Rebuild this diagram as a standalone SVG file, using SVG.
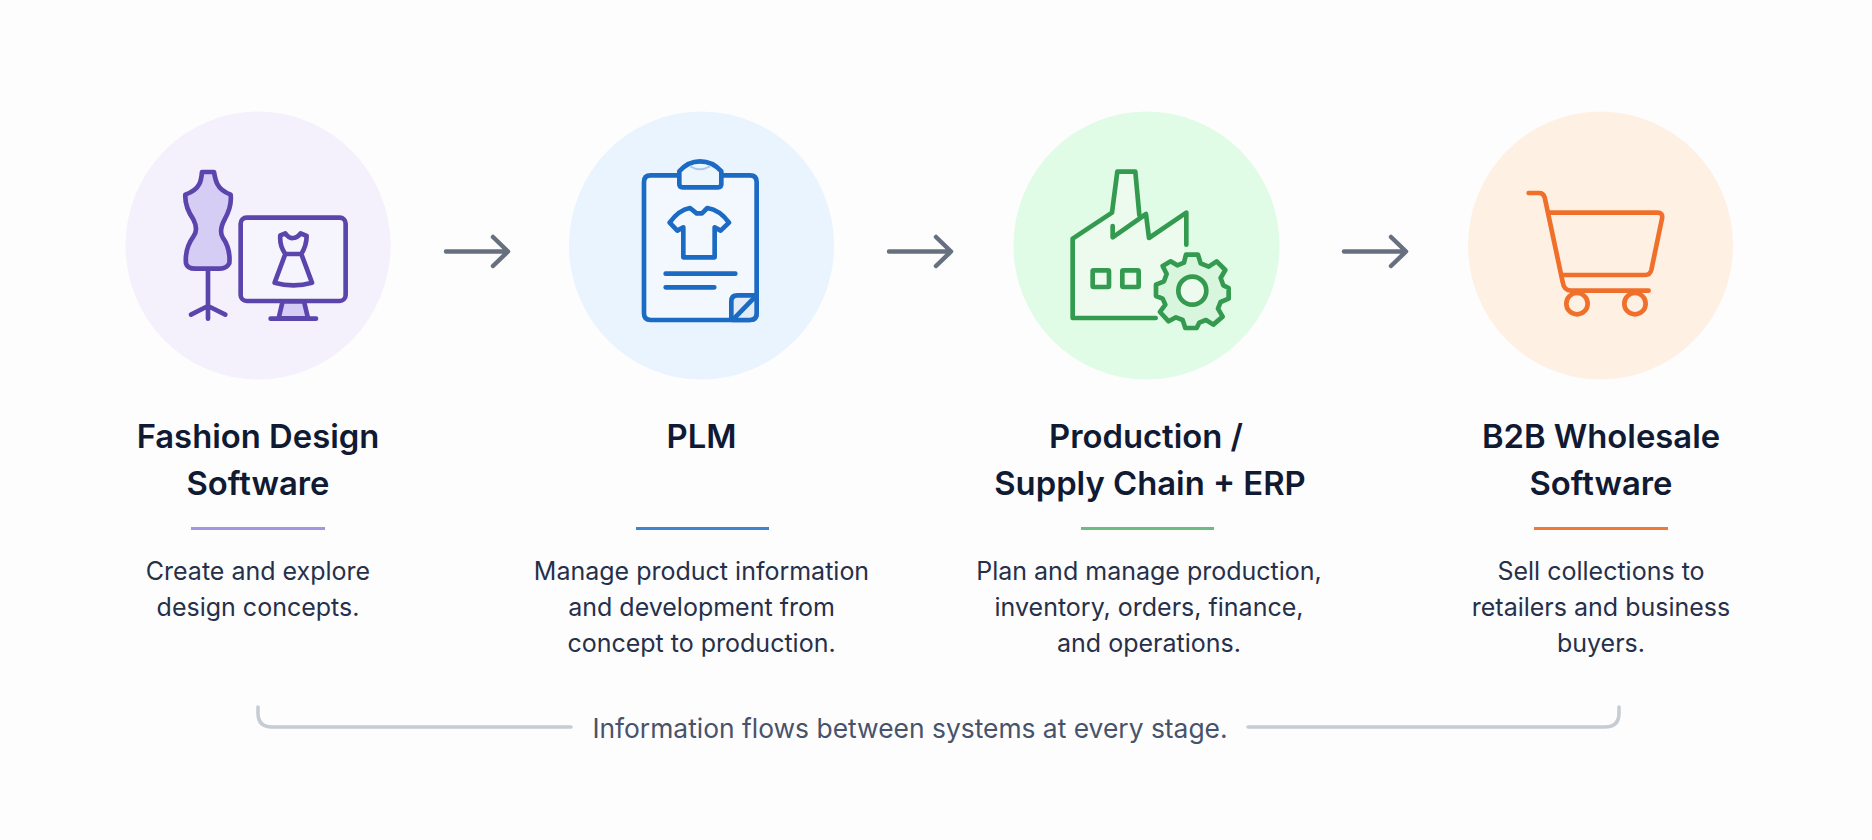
<svg xmlns="http://www.w3.org/2000/svg" width="1872" height="840" viewBox="0 0 1872 840">
<style>
.t{font-family:"Inter","Liberation Sans",sans-serif;font-weight:600;font-size:32.8px;fill:#111a33;text-anchor:middle}
.d{font-family:"Inter","Liberation Sans",sans-serif;font-weight:400;font-size:25px;fill:#26304a;text-anchor:middle}
.i{fill:none;stroke-width:14;stroke-linecap:round;stroke-linejoin:round}
.r{stroke-width:3;fill:none}
.a{fill:none;stroke:#66707f;stroke-width:4.500;stroke-linecap:round;stroke-linejoin:round}
.b{fill:none;stroke:#c6ccd4;stroke-width:3.500;stroke-linecap:round}
</style>
<rect width="1872" height="840" fill="#fdfdfe"/>
<g id="connectors">
<path class="a" d="M446 251.500H507M493 237L508 251.500L493 266"/>
<path class="a" d="M889 251.500H950M936 237L951 251.500L936 266"/>
<path class="a" d="M1344 251.500H1405M1391 237L1406 251.500L1391 266"/>
<path class="b" d="M258 707V713Q258 727 272 727H571"/>
<path class="b" d="M1619 707V713Q1619 727 1605 727H1248"/>
</g>
<g id="node-design">
<ellipse cx="258" cy="245.500" rx="132.500" ry="134" fill="#f4f1fd"/>
<g transform="translate(110 100) scale(.3333)" class="i" stroke="#5b45ac">
<path fill="#d6cdf5" d="M276 216H312Q316 240 322 252Q332 272 362 284Q366 320 344 358Q326 392 338 412Q362 446 358 490Q350 506 330 506H256Q232 506 228 490Q224 446 250 410Q266 390 250 358Q224 320 226 284Q258 272 268 252Q274 240 276 216Z"/>
<path d="M294 508V656M243 644L294 618L346 644"/>
<rect x="392" y="353" width="315" height="250" rx="18" fill="#f6f4fd"/>
<path fill="#d6cdf5" d="M518 604H582L594 655H506Z"/>
<path d="M482 656H618"/>
<path fill="#f6f4fd" d="M511 406L526 400Q538 416 548 414Q562 414 572 400L590 408Q590 436 574 462L606 548Q550 564 494 548L526 462Q508 436 511 406ZM526 462H574"/>
</g>
</g>
<g id="node-plm">
<ellipse cx="701.500" cy="245.500" rx="132.500" ry="134" fill="#e9f4fe"/>
<g transform="translate(560 100) scale(.3333)" class="i" stroke="#1b6ac4">
<path d="M356 226H272Q252 226 252 246V640Q252 660 272 660H570Q590 660 590 640V246Q590 226 570 226H488" fill="#f3f8fe"/>
<path d="M358 214Q384 184 420 184Q458 184 484 214V252Q484 262 474 262H368Q358 262 358 252Z" fill="#edf5fd"/>
<path d="M392 200Q420 216 448 200" stroke="#a9c9ec" stroke-width="6"/>
<path d="M390 324L410 340H426L442 324Q480 330 507 368L482 392L464 382V472H370V382L352 392L329 368Q356 330 390 324Z"/>
<path d="M317 521H526M317 562H463"/>
<path d="M514 656V604Q514 586 532 586H590V640Q590 660 570 660H518Z" fill="#e3ebf5"/>
<path d="M524 654L586 590"/>
</g>
</g>
<g id="node-production">
<ellipse cx="1146.500" cy="245.500" rx="133" ry="134" fill="#e0fbe6"/>
<g transform="translate(1000 100) scale(.3333)" class="i" stroke="#339a4f">
<path fill="#edfbef" stroke="none" d="M224 420L336 345L352 215H406L418 345L438 342L447 414L552 345V560L470 648H224Z"/>
<path d="M467 654H218V416L336 338L352 215H406L418 345"/>
<path d="M338 378V412L438 342L447 414L559 338V434"/>
<rect x="278" y="511" width="49" height="50" rx="3"/>
<rect x="367" y="511" width="49" height="50" rx="3"/>
<path fill="#d8f5de" d="M558 464H594L602 490L626 500L650 484L676 510L662 534L670 556L686 564V596L662 606L654 626L668 650L640 674L618 660L598 668L590 684H556L548 660L528 652L506 664L480 636L496 614L488 596L468 588V554L492 544L500 522L488 498L512 484L532 496L552 488Z"/>
<circle cx="577" cy="572" r="42" fill="#edfbef"/>
</g>
</g>
<g id="node-wholesale">
<ellipse cx="1600.500" cy="245.500" rx="132.500" ry="134" fill="#fef1e4"/>
<g transform="translate(1450 100) scale(.3333)" class="i" stroke="#f06f2a">
<path d="M236 279H268Q280 279 284 292L338 546Q342 572 364 572H596"/>
<path d="M298 338H622Q640 338 636 356L604 510Q600 525 586 525H338"/>
<circle cx="381" cy="611" r="32"/>
<circle cx="555" cy="611" r="32"/>
</g>
</g>
<g id="labels">
<text class="t" x="258" y="448">Fashion Design</text><text class="t" x="258" y="495">Software</text>
<path d="M191 528.500H325" class="r" stroke="#a594e0"/>
<text class="d" x="258" y="580">Create and explore</text><text class="d" x="258" y="616">design concepts.</text>
<text class="t" x="701.500" y="448">PLM</text>
<path d="M636 528.500H769" class="r" stroke="#3d85d0"/>
<text class="d" x="701.500" y="580">Manage product information</text><text class="d" x="701.500" y="616">and development from</text><text class="d" x="701.500" y="652">concept to production.</text>
<text class="t" x="1146" y="448">Production /</text><text class="t" x="1150" y="495">Supply Chain + ERP</text>
<path d="M1081 528.500H1214" class="r" stroke="#6dbd82"/>
<text class="d" x="1149" y="580">Plan and manage production,</text><text class="d" x="1149" y="616">inventory, orders, finance,</text><text class="d" x="1149" y="652">and operations.</text>
<text class="t" x="1601" y="448">B2B Wholesale</text><text class="t" x="1601" y="495">Software</text>
<path d="M1534 528.500H1668" class="r" stroke="#f0793a"/>
<text class="d" x="1601" y="580">Sell collections to</text><text class="d" x="1601" y="616">retailers and business</text><text class="d" x="1601" y="652">buyers.</text>
<text class="d" x="910" y="738" style="fill:#47536b;font-size:26.4px">Information flows between systems at every stage.</text>
</g>
</svg>
